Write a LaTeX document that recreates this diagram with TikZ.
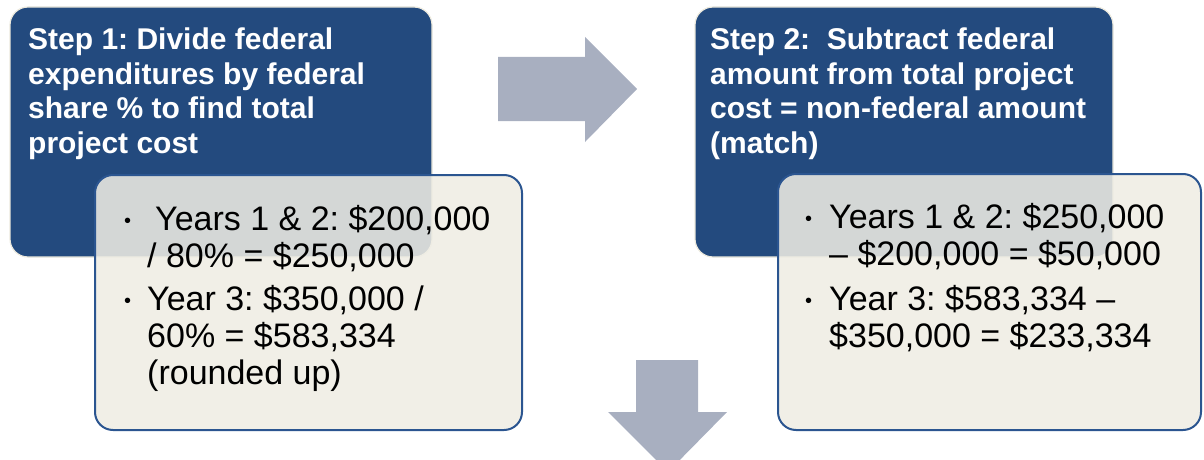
\documentclass[tikz,border=0pt]{standalone}
\usepackage{fontspec}
\setmainfont{Liberation Sans}
\frenchspacing
\definecolor{navy}{HTML}{234A7E}
\definecolor{ivory}{HTML}{EFEDE4}
\definecolor{edgeblue}{HTML}{2B5590}
\definecolor{arrowgray}{HTML}{A8AFC0}
\definecolor{glow}{HTML}{ECE9DD}
\tikzset{
  stepbox/.style={fill=navy, draw=glow, line width=1.2pt, rounded corners=18pt},
  detailbox/.style={fill=ivory, fill opacity=0.87, draw=edgeblue, draw opacity=1, line width=2pt, rounded corners=18pt},
  headtext/.style={inner sep=0pt, anchor=base west, text=white, font=\fontsize{30}{34.5}\selectfont\bfseries\frenchspacing},
  bodytext/.style={inner sep=0pt, anchor=base west, text=black, font=\fontsize{34}{37}\selectfont\frenchspacing},
  bigarrow/.style={fill=arrowgray, draw=none}
}
\newcommand{\bul}[1]{\makebox[#1][l]{\raisebox{3pt}{\fontsize{20}{20}\selectfont\textbullet}}}
\begin{document}
\begin{tikzpicture}[x=1pt,y=-1pt]
\useasboundingbox (0,0) rectangle (1204,460);
\clip (0,0) rectangle (1204,460);
% step boxes
\path[stepbox] (10,7) rectangle (432,257);
\node (h1) [headtext] at (28,50) {\parbox[t]{400pt}{\frenchspacing Step 1: Divide federal\\expenditures by federal\\share \% to find total\\project cost}};
\path[detailbox] (95,175) rectangle (522,430);
\node (b1) [bodytext] at (124,230) {\parbox[t]{400pt}{\frenchspacing\bul{31pt}Years 1 \& 2: \$200,000\\\hspace*{23pt}/ 80\% = \$250,000\\[6pt]\bul{23pt}Year 3: \$350,000 /\\\hspace*{23pt}60\% = \$583,334\\\hspace*{23pt}(rounded up)}};
\path[stepbox] (695,7) rectangle (1113,257);
\node (h2) [headtext] at (710,50) {\parbox[t]{400pt}{\frenchspacing Step 2:\ \ Subtract federal\\amount from total project\\cost = non-federal amount\\(match)}};
\path[detailbox] (778,174) rectangle (1201,430);
\node (b2) [bodytext] at (805,228) {\parbox[t]{400pt}{\frenchspacing\bul{24pt}Years 1 \& 2: \$250,000\\\hspace*{24pt}– \$200,000 = \$50,000\\[8pt]\bul{24pt}Year 3: \$583,334 –\\\hspace*{24pt}\$350,000 = \$233,334}};
% arrows
\fill[bigarrow] (498,57) -- (585,57) -- (585,37) -- (637,89) -- (585,142) -- (585,121) -- (498,121) -- cycle;
\fill[bigarrow] (636,360) -- (698,360) -- (698,412) -- (727,412) -- (668,472) -- (608,412) -- (636,412) -- cycle;
\end{tikzpicture}
\end{document}
